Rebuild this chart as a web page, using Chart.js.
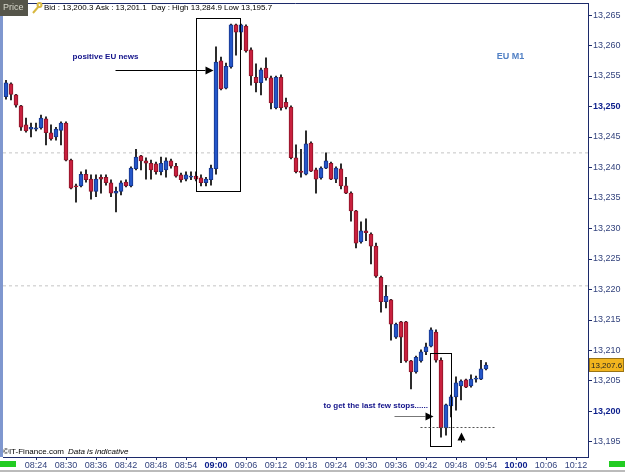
<!DOCTYPE html>
<html>
<head>
<meta charset="utf-8">
<script src="https://cdn.jsdelivr.net/npm/chart.js@4.4.1/dist/chart.umd.min.js"></script>
<style>
  html, body { margin: 0; padding: 0; background: #fff; }
</style>
</head>
<body>
<canvas id="chart" width="625" height="472"></canvas>
<script>
// EU M1 candles, one per minute starting 08:18
const startMinute = 8 * 60 + 18;

const opens = [
  13251.6, 13253.7, 13251.9, 13250.1, 13247.0, 13246.3, 13246.3, 13246.5, 13248.0, 13245.7,
  13245.0, 13246.1, 13247.3, 13241.2, 13237.0, 13237.0, 13238.9, 13238.1, 13236.1, 13238.4,
  13238.4, 13237.5, 13235.8, 13236.1, 13237.6, 13237.0, 13239.8, 13241.9, 13241.1, 13240.7,
  13240.6, 13239.3, 13239.6, 13241.1, 13240.2, 13238.8, 13238.1, 13238.4, 13238.6, 13238.3,
  13237.5, 13238.0, 13239.8, 13257.5, 13253.0, 13256.5, 13263.4, 13262.2, 13263.2, 13259.3,
  13254.8, 13253.9, 13256.3, 13254.7, 13249.8, 13254.8, 13250.7, 13249.9, 13241.6, 13239.4,
  13238.9, 13244.0, 13239.6, 13238.3, 13239.9, 13240.7, 13238.1, 13239.8, 13237.0, 13235.8,
  13232.9, 13227.8, 13229.6, 13229.1, 13227.1, 13222.0, 13218.0, 13218.3, 13212.2, 13214.7,
  13214.7, 13208.3, 13206.5, 13208.3, 13209.8, 13210.7, 13213.0, 13208.4, 13197.3, 13200.9,
  13202.4, 13204.2, 13205.2, 13204.2, 13205.3, 13205.3, 13207.0
];
const highs = [
  13254.3, 13253.9, 13252.0, 13250.2, 13248.1, 13247.3, 13247.3, 13248.6, 13248.3, 13247.0,
  13246.6, 13247.5, 13247.5, 13241.4, 13237.3, 13239.3, 13239.6, 13238.8, 13238.8, 13238.8,
  13238.8, 13238.0, 13236.8, 13237.8, 13238.0, 13240.1, 13243.0, 13242.0, 13241.6, 13241.2,
  13240.9, 13241.7, 13241.6, 13241.4, 13240.7, 13239.1, 13239.3, 13239.3, 13239.3, 13238.8,
  13238.4, 13240.4, 13259.8, 13258.1, 13257.1, 13263.5, 13263.5, 13263.5, 13263.4, 13259.6,
  13257.0, 13256.3, 13258.0, 13255.0, 13255.0, 13255.2, 13251.4, 13250.1, 13243.7, 13243.0,
  13246.0, 13244.2, 13239.9, 13240.1, 13242.4, 13240.9, 13240.1, 13240.6, 13238.4, 13236.0,
  13233.0, 13231.1, 13231.6, 13229.3, 13227.6, 13222.2, 13220.7, 13218.4, 13214.5, 13214.8,
  13214.8, 13208.4, 13209.1, 13210.1, 13211.2, 13213.7, 13213.4, 13208.8, 13201.2, 13202.7,
  13205.7, 13205.2, 13205.3, 13206.0, 13205.8, 13208.4, 13208.0
];
const lows = [
  13251.2, 13251.1, 13249.9, 13246.1, 13245.8, 13245.0, 13246.0, 13246.3, 13243.7, 13244.5,
  13244.5, 13243.7, 13241.1, 13236.5, 13234.3, 13236.8, 13237.6, 13234.8, 13235.2, 13235.8,
  13237.1, 13235.2, 13232.7, 13235.5, 13236.8, 13236.8, 13239.6, 13239.6, 13238.1, 13238.1,
  13238.9, 13238.8, 13238.4, 13239.9, 13238.4, 13237.6, 13237.8, 13238.0, 13237.8, 13237.0,
  13237.0, 13237.1, 13238.9, 13252.7, 13252.9, 13256.3, 13258.4, 13259.3, 13258.9, 13253.5,
  13252.4, 13251.9, 13254.3, 13249.6, 13249.6, 13249.4, 13249.6, 13241.4, 13239.1, 13238.4,
  13238.8, 13239.3, 13235.8, 13238.1, 13239.8, 13238.0, 13237.5, 13236.5, 13235.7, 13231.2,
  13226.8, 13227.6, 13228.0, 13224.2, 13222.0, 13216.3, 13217.0, 13211.7, 13212.0, 13208.0,
  13208.1, 13203.7, 13206.3, 13208.1, 13209.3, 13210.6, 13208.1, 13195.8, 13196.1, 13199.1,
  13200.2, 13201.9, 13203.9, 13204.0, 13204.8, 13205.2, 13206.8
];
const closes = [
  13253.9, 13252.0, 13250.2, 13246.6, 13246.0, 13246.6, 13246.5, 13248.1, 13245.7, 13244.7,
  13246.3, 13247.3, 13241.2, 13236.6, 13236.8, 13238.9, 13238.0, 13236.1, 13238.1, 13238.1,
  13237.5, 13235.8, 13236.1, 13237.5, 13237.0, 13239.9, 13241.7, 13241.1, 13240.7, 13239.6,
  13239.3, 13240.7, 13241.1, 13240.2, 13238.6, 13238.0, 13238.8, 13238.6, 13238.1, 13237.5,
  13238.1, 13239.9, 13257.3, 13252.9, 13256.6, 13263.4, 13262.2, 13263.4, 13259.1, 13255.0,
  13253.9, 13256.0, 13254.7, 13250.6, 13254.8, 13249.8, 13249.9, 13241.6, 13239.3, 13239.2,
  13243.9, 13239.4, 13238.1, 13239.9, 13241.1, 13238.1, 13239.9, 13237.0, 13235.8, 13232.9,
  13227.6, 13229.6, 13229.3, 13227.1, 13222.2, 13218.0, 13218.9, 13214.3, 13214.3, 13212.2,
  13208.3, 13206.5, 13208.9, 13209.8, 13210.6, 13213.4, 13208.4, 13197.3, 13201.1, 13202.4,
  13204.7, 13205.0, 13204.0, 13205.3, 13205.4, 13207.0, 13207.6
];

// axis ticks: minutes since midnight (08:24 ... 10:12) and prices
const xTicks = [504, 510, 516, 522, 528, 534, 540, 546, 552, 558, 564, 570, 576, 582, 588, 594, 600, 606, 612];
const yTicks = [13195, 13200, 13205, 13210, 13215, 13220, 13225, 13230, 13235, 13240, 13245, 13250, 13255, 13260, 13265];
const levelLines = [13242.4, 13220.6];
const lastPrice = 13207.6;
const bid = '13,200.3', ask = '13,201.1', dayHigh = '13,284.9', dayLow = '13,195.7';

const FONT = '"Liberation Sans", Arial, sans-serif';
const xMin = 497.4, xMax = 614.4;
const yMin = 13192.54, yMax = 13266.97;

const minutes = opens.map((o, i) => startMinute + i);
const isUp = opens.map((o, i) => closes[i] >= o);

const fmtPrice = v => v.toLocaleString('en-US', { maximumFractionDigits: 1 });
const fmtTime = m => String(Math.floor(m / 60)).padStart(2, '0') + ':' + String(m % 60).padStart(2, '0');

const datasets = [
  {
    label: 'bodies',
    data: minutes.map((m, i) => ({ x: m, y: [opens[i], closes[i]] })),
    backgroundColor: isUp.map(u => u ? '#2456c8' : '#c8203e'),
    borderColor: isUp.map(u => u ? '#17368c' : '#8c1428'),
    borderWidth: 1,
    borderSkipped: false,
    barThickness: 4,
    minBarLength: 1,
    grouped: false,
    order: 0
  },
  {
    label: 'wicks',
    data: minutes.map((m, i) => ({ x: m, y: [lows[i], highs[i]] })),
    backgroundColor: '#000',
    borderWidth: 0,
    barThickness: 1,
    grouped: false,
    order: 1
  }
];
levelLines.forEach(v => {
  datasets.push({
    type: 'line',
    data: [{ x: xMin, y: v }, { x: xMax, y: v }],
    borderColor: '#c4c4c4',
    borderWidth: 1,
    borderDash: [3, 3],
    pointRadius: 0,
    order: 2
  });
});

function arrow(ctx, x1, y1, x2, y2, lineColor) {
  const ang = Math.atan2(y2 - y1, x2 - x1);
  const len = 8, half = 4;
  const bx = x2 - Math.cos(ang) * len, by = y2 - Math.sin(ang) * len;
  ctx.strokeStyle = lineColor;
  ctx.lineWidth = 1;
  ctx.beginPath(); ctx.moveTo(x1, y1); ctx.lineTo(bx, by); ctx.stroke();
  ctx.fillStyle = '#000';
  ctx.beginPath();
  ctx.moveTo(x2, y2);
  ctx.lineTo(bx - Math.sin(ang) * half, by + Math.cos(ang) * half);
  ctx.lineTo(bx + Math.sin(ang) * half, by - Math.cos(ang) * half);
  ctx.closePath(); ctx.fill();
}

const overlay = {
  id: 'overlay',
  beforeDraw(chart) {
    const ctx = chart.ctx;
    ctx.save();
    ctx.fillStyle = '#fff';
    ctx.fillRect(0, 0, chart.width, chart.height);
    ctx.restore();
  },
  afterDraw(chart) {
    const { ctx, chartArea: a } = chart;
    const sx = chart.scales.x, sy = chart.scales.y;
    const px = v => Math.round(sx.getPixelForValue(v)) + 0.5;
    const py = v => Math.round(sy.getPixelForValue(v)) + 0.5;
    ctx.save();

    // frame
    ctx.strokeStyle = '#1c2a6a'; ctx.lineWidth = 1;
    ctx.beginPath(); ctx.moveTo(a.left, Math.round(a.top) + 0.5); ctx.lineTo(a.right, Math.round(a.top) + 0.5); ctx.stroke();
    ctx.fillStyle = '#7f97cf';
    ctx.fillRect(0, a.top, 3, a.bottom - a.top);

    // boxes around the moves
    ctx.strokeStyle = '#000';
    ctx.strokeRect(px(536), py(13264.5), px(544.8) - px(536), py(13236.1) - py(13264.5));
    ctx.strokeRect(px(582.8), py(13209.6), px(587) - px(582.8), py(13194.3) - py(13209.6));

    // dotted level under the stop run
    ctx.strokeStyle = '#555'; ctx.setLineDash([2, 2]);
    ctx.beginPath(); ctx.moveTo(px(580.8), py(13197.5)); ctx.lineTo(px(595.8), py(13197.5)); ctx.stroke();
    ctx.setLineDash([]);

    // arrows
    arrow(ctx, px(519.8), py(13256.0), px(539.4), py(13256.0), '#000');
    arrow(ctx, px(575.6), py(13199.3), px(583.4), py(13199.3), '#777');
    arrow(ctx, px(589), py(13195.0), px(589), py(13196.6), '#000');

    // annotation texts
    ctx.textBaseline = 'middle';
    ctx.font = 'bold 8px ' + FONT;
    ctx.fillStyle = '#12128a';
    ctx.textAlign = 'center';
    ctx.fillText('positive EU news', px(517.8), py(13258.3));
    ctx.textAlign = 'left';
    ctx.fillText('to get the last few stops......', px(561.4), py(13201.1));
    ctx.font = 'bold 9px ' + FONT;
    ctx.fillStyle = '#4f7fc4';
    ctx.textAlign = 'center';
    ctx.fillText('EU M1', px(598.8), py(13258.3));

    // last price tag
    const ly = sy.getPixelForValue(lastPrice);
    ctx.fillStyle = '#f2b51e';
    ctx.fillRect(a.right + 1, Math.round(ly) - 7, 35, 14);
    ctx.strokeStyle = '#9a7414';
    ctx.strokeRect(a.right + 1.5, Math.round(ly) - 6.5, 34, 13);
    ctx.fillStyle = '#222';
    ctx.font = '8px ' + FONT;
    ctx.textAlign = 'left';
    ctx.fillText(fmtPrice(lastPrice), a.right + 3, ly + 0.5);

    // header
    ctx.fillStyle = '#55554a';
    ctx.fillRect(0, 0, 28, 16);
    ctx.fillStyle = '#d8d8cc';
    ctx.font = '9px ' + FONT;
    ctx.fillText('Price', 3, 8);
    ctx.strokeStyle = '#d8b840'; ctx.lineWidth = 2;
    ctx.beginPath(); ctx.moveTo(33, 13); ctx.lineTo(39, 6); ctx.stroke();
    ctx.beginPath(); ctx.arc(39.5, 5, 2, 0, Math.PI * 2); ctx.stroke();
    ctx.lineWidth = 1;
    ctx.fillStyle = '#000';
    ctx.font = '8px ' + FONT;
    ctx.fillText('Bid : ' + bid + ' Ask : ' + ask + '  Day : High ' + dayHigh + ' Low ' + dayLow, 44, 8);

    // footer
    ctx.font = '8px ' + FONT;
    ctx.fillText('\u00A9IT-Finance.com', 3, 452);
    ctx.font = 'italic 8px ' + FONT;
    ctx.fillText('Data is indicative', 68, 452);
    ctx.fillStyle = '#22cc22';
    ctx.fillRect(0, 461, 16, 6);
    ctx.fillRect(609, 461, 16, 6);
    ctx.fillStyle = '#bbb';
    ctx.fillRect(0, 470, 625, 2);
    ctx.restore();
  }
};

new Chart(document.getElementById('chart'), {
  type: 'bar',
  data: { datasets },
  options: {
    responsive: false,
    animation: false,
    layout: { padding: { left: 3, top: 3, right: 0, bottom: 0 } },
    plugins: { legend: { display: false }, tooltip: { enabled: false } },
    scales: {
      x: {
        type: 'linear',
        offset: false,
        min: xMin,
        max: xMax,
        afterBuildTicks: s => { s.ticks = xTicks.map(v => ({ value: v })); },
        afterFit: s => { s.height = 15; s.paddingLeft = 0; s.paddingRight = 0; },
        grid: { drawOnChartArea: false, offset: false, tickLength: 3, color: '#1c2a6a' },
        border: { color: '#1c2a6a' },
        ticks: {
          autoSkip: false,
          maxRotation: 0,
          padding: 0,
          callback: v => fmtTime(v),
          font: c => ({ family: FONT, size: 9, weight: c.tick && c.tick.value % 60 === 0 ? 'bold' : 'normal' }),
          color: c => c.tick && c.tick.value % 60 === 0 ? '#0c1f8c' : '#34447e'
        }
      },
      y: {
        position: 'right',
        min: yMin,
        max: yMax,
        afterBuildTicks: s => { s.ticks = yTicks.map(v => ({ value: v })); },
        afterFit: s => { s.width = 37; s.paddingTop = 0; s.paddingBottom = 0; },
        grid: { drawOnChartArea: false, tickLength: 4, color: '#1c2a6a' },
        border: { color: '#1c2a6a' },
        ticks: {
          padding: 1,
          callback: v => fmtPrice(v),
          font: c => ({ family: FONT, size: 9, weight: c.tick && c.tick.value % 50 === 0 ? 'bold' : 'normal' }),
          color: c => c.tick && c.tick.value % 50 === 0 ? '#0c1f8c' : '#34447e'
        }
      }
    }
  },
  plugins: [overlay]
});
</script>
</body>
</html>
